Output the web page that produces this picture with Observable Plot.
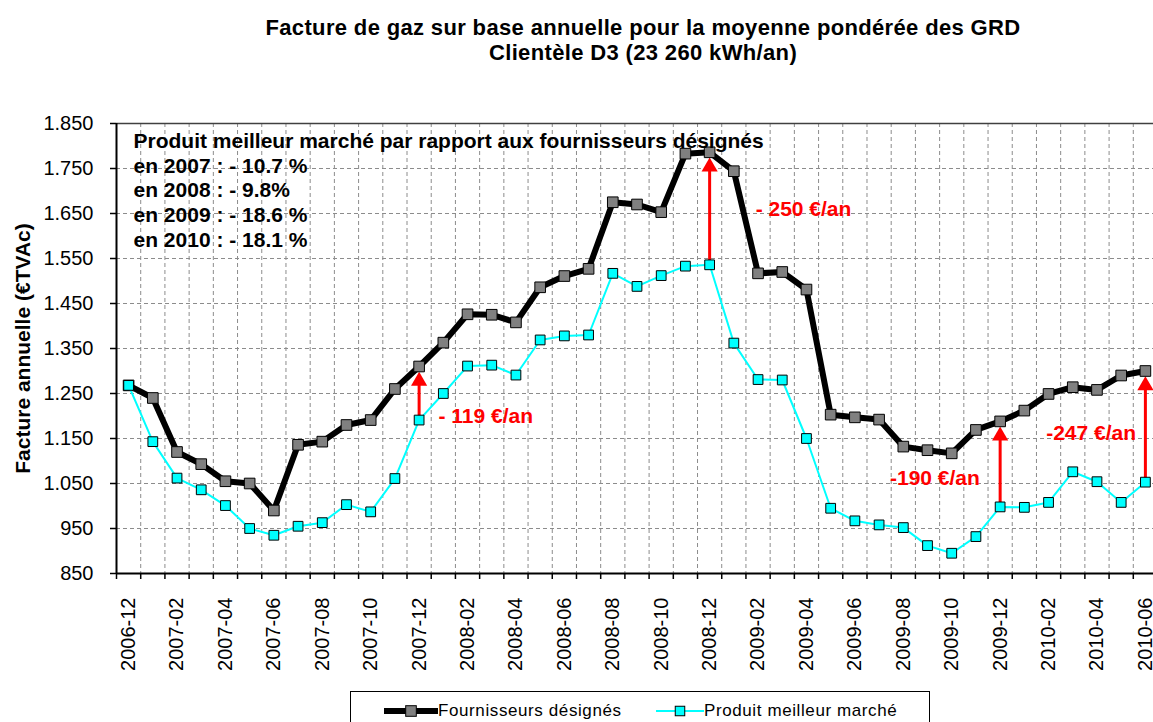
<!DOCTYPE html>
<html>
<head>
<meta charset="utf-8">
<script src="https://cdn.jsdelivr.net/npm/d3@7"></script>
<script src="https://cdn.jsdelivr.net/npm/@observablehq/plot@0.6"></script>
<style>
  html, body { margin: 0; padding: 0; background: #fff; overflow: hidden; }
  body { width: 1153px; height: 722px; position: relative; font-family: "Liberation Sans", Arial, sans-serif; color: #000; }
  #title { position: absolute; left: 143px; top: 15px; width: 1000px; text-align: center; font-weight: bold; font-size: 22px; line-height: 25px; letter-spacing: 0.35px; }
  #chart { position: absolute; left: 0; top: 80px; width: 1157px; height: 593px; }
  #chart > svg { position: absolute; left: 0; top: 0; }
  #legend { position: absolute; left: 350px; top: 691px; width: 580px; height: 40px; border: 1px solid #000; box-sizing: border-box; background: #fff; }
  .lg-item { position: absolute; top: 8px; height: 22px; display: flex; align-items: center; }
  .lg-item span { font-size: 17px; letter-spacing: 0.6px; line-height: 22px; }
  .lg-item svg { display: block; }
</style>
</head>
<body>
<div id="title"></div>
<div id="chart"></div>
<div id="legend"></div>
<script>
// ---- Data ----
const titleLines = [
  "Facture de gaz sur base annuelle pour la moyenne pondérée des GRD",
  "Clientèle D3 (23 260 kWh/an)"
];
const yAxisTitle = "Facture annuelle (€TVAc)";
const seriesNames = ["Fournisseurs désignés", "Produit meilleur marché"];

const months = [
  "2006-12",
  "2007-01","2007-02","2007-03","2007-04","2007-05","2007-06","2007-07","2007-08","2007-09","2007-10","2007-11","2007-12",
  "2008-01","2008-02","2008-03","2008-04","2008-05","2008-06","2008-07","2008-08","2008-09","2008-10","2008-11","2008-12",
  "2009-01","2009-02","2009-03","2009-04","2009-05","2009-06","2009-07","2009-08","2009-09","2009-10","2009-11","2009-12",
  "2010-01","2010-02","2010-03","2010-04","2010-05","2010-06"
];
const fournisseurs = [
  1268, 1240, 1120, 1093, 1055, 1050, 990, 1136, 1143, 1180,
  1191, 1260, 1310, 1363, 1426, 1425, 1408, 1486, 1511, 1527,
  1675, 1670, 1653, 1783, 1786, 1744, 1517, 1520, 1481, 1203,
  1197, 1192, 1132, 1124, 1117, 1169, 1188, 1212, 1249, 1264,
  1258, 1290, 1300
];
const meilleur = [
  1268, 1143, 1062, 1036, 1001, 950, 935, 955, 963, 1003,
  987, 1061, 1191, 1250, 1311, 1313, 1291, 1369, 1378, 1380,
  1517, 1488, 1512, 1533, 1536, 1362, 1281, 1280, 1150, 995,
  967, 958, 952, 912, 895, 932, 998, 997, 1008, 1076,
  1054, 1008, 1053
];
const yTicks = [850, 950, 1050, 1150, 1250, 1350, 1450, 1550, 1650, 1750, 1850];
const xTickLabels = [
  "2006-12","2007-02","2007-04","2007-06","2007-08","2007-10","2007-12",
  "2008-02","2008-04","2008-06","2008-08","2008-10","2008-12",
  "2009-02","2009-04","2009-06","2009-08","2009-10","2009-12",
  "2010-02","2010-04","2010-06"
];
const noteLines = [
  "Produit meilleur marché par rapport aux fournisseurs désignés",
  "en 2007 : - 10.7 %",
  "en 2008 : - 9.8%",
  "en 2009 : - 18.6 %",
  "en 2010 : - 18.1 %"
];
const arrowMonths = ["2007-12", "2008-12", "2009-12", "2010-06"];
// gap labels: anchored in data units (month position, value)
const gapLabels = [
  {pos: 12.8, value: 1199, text: "- 119 €/an"},
  {pos: 25.9, value: 1659, text: "- 250 €/an"},
  {pos: 31.45, value: 1061, text: "-190 €/an"},
  {pos: 37.9, value: 1161, text: "-247 €/an"}
];

// ---- Build ----
document.getElementById("title").innerHTML = titleLines.map(t => `<div>${t}</div>`).join("");

const rowsF = months.map((m, i) => ({i, v: fournisseurs[i]}));
const rowsP = months.map((m, i) => ({i, v: meilleur[i]}));
const arrows = arrowMonths.map(m => { const i = months.indexOf(m); return {i, lo: meilleur[i], hi: fournisseurs[i]}; });
const boundaries = d3.range(months.length + 1).map(k => k - 0.5);
const labelIdx = xTickLabels.map(m => months.indexOf(m));
const fmt = d3.formatLocale({decimal: ",", thousands: ".", grouping: [3], currency: ["", "€"]}).format(",");
const FONT = "'Liberation Sans', Arial, sans-serif";

const frame = {
  width: 1157,
  height: 593,
  marginLeft: 116,
  marginRight: 0,
  marginTop: 43,
  marginBottom: 100,
  x: {type: "linear", domain: [-0.5, months.length - 0.5], axis: null, label: null},
  y: {domain: [850, 1850], axis: null, label: null}
};

// Background layer: grid (same scales as the chart)
const gridChart = Plot.plot({
  ...frame,
  style: {background: "#fff", overflow: "visible"},
  marks: [
    Plot.ruleX(boundaries.slice(1, -1), {stroke: "#8c8c8c", strokeOpacity: 1, strokeWidth: 1, strokeDasharray: "4,3"}),
    Plot.ruleY(yTicks.slice(1, -1), {stroke: "#8c8c8c", strokeOpacity: 1, strokeWidth: 1, strokeDasharray: "4,3"}),
    Plot.ruleY(yTicks.slice(-1), {stroke: "#404040", strokeWidth: 1.5})
  ]
});

// Foreground layer: axes, series, annotations
const chart = Plot.plot({
  ...frame,
  style: {fontFamily: FONT, fontSize: "20px", color: "#000", background: "transparent", overflow: "visible"},
  marks: [
    Plot.axisY(yTicks, {tickSize: 6, tickPadding: 17, tickFormat: fmt, label: null, stroke: "#000", strokeWidth: 1.5}),
    Plot.axisX(boundaries, {tickSize: 6, tickFormat: () => "", label: null, stroke: "#000", strokeWidth: 1.5}),
    Plot.axisX(labelIdx, {tickSize: 0, tickPadding: 24, tickRotate: -90, tickFormat: i => months[i], label: null}),
    Plot.ruleX(boundaries.slice(0, 1), {stroke: "#000", strokeWidth: 2}),
    Plot.ruleY(yTicks.slice(0, 1), {stroke: "#000", strokeWidth: 2}),
    Plot.line(rowsF, {x: "i", y: "v", stroke: "#000", strokeWidth: 6}),
    Plot.ruleX(arrows, {x: "i", y1: "hi", y2: "lo", stroke: "#FF0000", strokeWidth: 3, insetTop: 16}),
    Plot.dot(arrows, {x: "i", y: "hi", symbol: "triangle", r: 6, fill: "#FF0000", stroke: "none", dy: 14.5}),
    Plot.dot(rowsF, {x: "i", y: "v", symbol: "square", r: 6, fill: "#808080", stroke: "#000", strokeWidth: 1}),
    Plot.line(rowsP, {x: "i", y: "v", stroke: "#00FFFF", strokeWidth: 2}),
    Plot.dot(rowsP, {x: "i", y: "v", symbol: "square", r: 5.5, fill: "#00FFFF", stroke: "#000", strokeWidth: 1}),
    Plot.text([noteLines.join("\n")], {frameAnchor: "top-left", dx: 17, dy: 7, lineAnchor: "top", textAnchor: "start", fontWeight: "bold", fontSize: 21, lineHeight: 1.176, fill: "#000", letterSpacing: 0.4}),
    Plot.text(gapLabels, {x: "pos", y: "value", text: "text", fill: "#FF0000", fontWeight: "bold", fontSize: 21, textAnchor: "start", lineAnchor: "middle"}),
    Plot.text([yAxisTitle], {frameAnchor: "left", rotate: -90, dx: -93, fontWeight: "bold", fontSize: 21, textAnchor: "middle", fill: "#000"})
  ]
});
const holder = document.getElementById("chart");
holder.appendChild(gridChart);
holder.appendChild(chart);

// ---- Legend ----
const legend = document.getElementById("legend");
const lgSpecs = [
  {name: seriesNames[0], left: 33, w: 54, line: "#000", lw: 6, fill: "#808080", side: 10.6},
  {name: seriesNames[1], left: 305, w: 48, line: "#00FFFF", lw: 2, fill: "#00FFFF", side: 9.5}
];
for (const s of lgSpecs) {
  const item = document.createElement("div");
  item.className = "lg-item";
  item.style.left = s.left + "px";
  const c = s.w / 2;
  item.innerHTML =
    `<svg width="${s.w}" height="22"><line x1="0" x2="${s.w}" y1="11" y2="11" stroke="${s.line}" stroke-width="${s.lw}"/>` +
    `<rect x="${c - s.side / 2}" y="${11 - s.side / 2}" width="${s.side}" height="${s.side}" fill="${s.fill}" stroke="#000" stroke-width="1"/></svg>` +
    `<span>${s.name}</span>`;
  legend.appendChild(item);
}
</script>
</body>
</html>
